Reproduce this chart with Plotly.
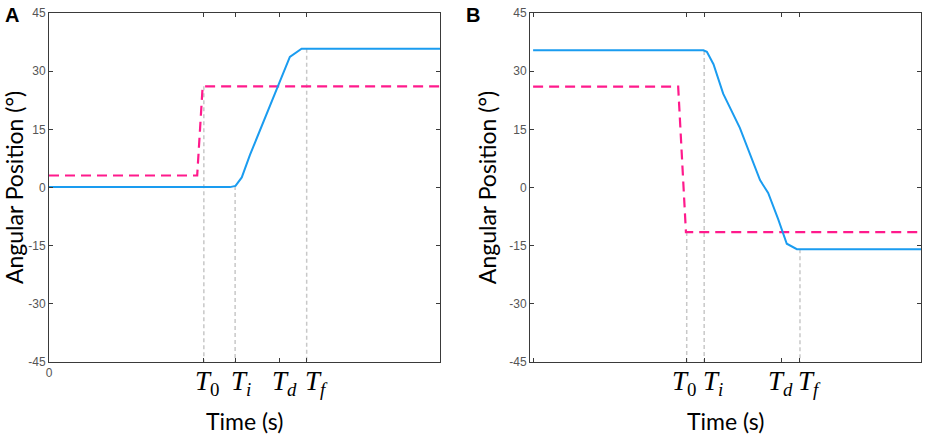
import plotly.graph_objects as go

# --- data (time in arbitrary units 0..10, angle in degrees) ---
# panel A
a_ref_t = [0, 3.79, 3.93, 10]
a_ref_y = [3.1, 3.1, 26.1, 26.1]
a_pos_t = [0, 4.63, 4.77, 4.93, 5.14, 5.82, 6.16, 6.46, 10]
a_pos_y = [0.1, 0.1, 0.4, 2.6, 8.4, 25.6, 33.7, 35.8, 35.8]
a_event_t = [3.96, 4.76, 5.89, 6.59]
a_event_top = [26.1, 0.4, None, 35.8]

# panel B
b_ref_t = [0, 3.74, 3.94, 10]
b_ref_y = [26, 26, -11.5, -11.5]
b_pos_t = [0, 4.39, 4.48, 4.65, 4.90, 5.33, 5.85, 6.06, 6.32, 6.54, 6.80, 10]
b_pos_y = [35.4, 35.4, 35.0, 31.8, 24.2, 15.4, 1.9, -1.4, -8.2, -14.5, -15.9, -15.9]
b_event_t = [3.96, 4.41, 6.41, 6.88]
b_event_top = [-11.5, 35.2, None, -15.9]

event_labels = ["<i>T</i><sub>0</sub>", "<i>T</i><sub><i>i</i></sub>",
                "<i>T</i><sub><i>d</i></sub>", "<i>T</i><sub><i>f</i></sub>"]
y_ticks = [45, 30, 15, 0, -15, -30, -45]
y_ticktext = ["45", "30", "15", "0", "-15", "-30", "-45"]

BLUE = "#1a9cf0"
PINK = "#ff1a8c"
GRAY = "#c8c8c8"

fig = go.Figure()

panels = [
    ("x", "y", a_ref_t, a_ref_y, a_pos_t, a_pos_y, a_event_t, a_event_top),
    ("x2", "y2", b_ref_t, b_ref_y, b_pos_t, b_pos_y, b_event_t, b_event_top),
]

for xa, ya, rt, ry, pt, py, et, etop in panels:
    # dashed guide lines from the curve down to the axis
    for t, top in zip(et, etop):
        if top is None:
            continue
        fig.add_trace(go.Scatter(x=[t, t], y=[top, -45], mode="lines", xaxis=xa, yaxis=ya,
                                 line=dict(color=GRAY, width=1.5, dash="4px,3px"),
                                 showlegend=False, hoverinfo="skip"))
    fig.add_trace(go.Scatter(x=rt, y=ry, mode="lines", xaxis=xa, yaxis=ya,
                             line=dict(color=PINK, width=2.2, dash="10px,6px"),
                             showlegend=False))
    fig.add_trace(go.Scatter(x=pt, y=py, mode="lines", xaxis=xa, yaxis=ya,
                             line=dict(color=BLUE, width=2),
                             showlegend=False))

axis_common = dict(showline=True, linecolor="#3a3a3a", linewidth=1, mirror="ticks",
                   ticks="inside", ticklen=4, tickcolor="#3a3a3a", showgrid=False,
                   zeroline=False, automargin=False)
yaxis_common = dict(axis_common, range=[-45, 45], tickvals=y_ticks, ticktext=y_ticktext,
                    tickfont=dict(family="Arial", size=12, color="#555555"),
                    title=dict(text="Angular Position (°)", standoff=6,
                               font=dict(family="Lato", size=23, color="black")))
xaxis_common = dict(axis_common, tickangle=0,
                    tickfont=dict(family="Arial", size=12, color="#555555"))

fig.update_layout(
    width=927, height=438,
    margin=dict(l=0, r=0, t=0, b=0, autoexpand=False),
    plot_bgcolor="white", paper_bgcolor="white",
    xaxis=dict(xaxis_common, domain=[49 / 927, 440 / 927], range=[0, 10],
               tickvals=[0] + a_event_t, ticktext=["0", "", "", "", ""], anchor="y"),
    yaxis=dict(yaxis_common, domain=[76 / 438, 425 / 438], anchor="x"),
    xaxis2=dict(xaxis_common, domain=[530 / 927, 921 / 927], range=[-0.08, 10],
                tickvals=[0] + b_event_t, ticktext=["", "", "", "", ""], anchor="y2"),
    yaxis2=dict(yaxis_common, domain=[76 / 438, 425 / 438], anchor="x2"),
)

# event labels under the x axis
shifts = {"x": [3, 6, 5, 10], "x2": [-3, 9, -1, 10]}
for xa, et in (("x", a_event_t), ("x2", b_event_t)):
    for t, lab, s in zip(et, event_labels, shifts[xa]):
        fig.add_annotation(x=t, xref=xa, y=76 / 438, yref="paper", text=lab,
                           showarrow=False, xanchor="center", yanchor="top",
                           xshift=s, yshift=-2,
                           font=dict(family="Liberation Serif", size=27, color="black"))

# x axis titles
for xc in ((49 + 440) / 2, (530 + 921) / 2):
    fig.add_annotation(x=xc / 927, y=17 / 438, xref="paper", yref="paper", text="Time (s)",
                       showarrow=False, xanchor="center", yanchor="middle",
                       font=dict(family="Lato", size=23, color="black"))

# panel letters
for x, letter in ((3, "A"), (464, "B")):
    fig.add_annotation(x=x / 927, y=1, xref="paper", yref="paper", text="<b>%s</b>" % letter,
                       showarrow=False, xanchor="left", yanchor="top", yshift=-2,
                       font=dict(family="Arial", size=20, color="black"))

fig.write_html("out.html", config={"displayModeBar": False},
               post_script="document.body.style.margin='0';")
